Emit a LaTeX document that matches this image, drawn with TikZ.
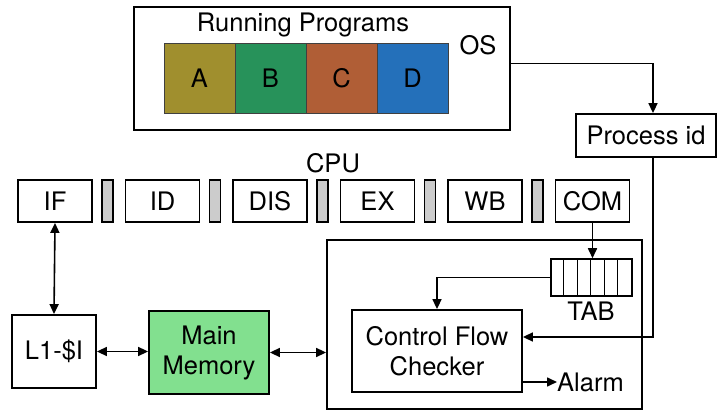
\documentclass[tikz,border=0pt]{standalone}
\usepackage{fontspec}
\setmainfont{TeX Gyre Heros}
\usetikzlibrary{arrows.meta}

\definecolor{progA}{HTML}{A08F2E}
\definecolor{progB}{HTML}{27925A}
\definecolor{progC}{HTML}{B05E36}
\definecolor{progD}{HTML}{2470BA}
\definecolor{memgreen}{HTML}{82E08F}
\definecolor{latch}{HTML}{CCCCCC}

\tikzset{
  every node/.style={font=\fontsize{25.5}{29}\selectfont, inner sep=0pt},
  box/.style={draw, line width=1.8pt, fill=white},
  prog/.style={draw=black!75, line width=0.6pt, minimum width=71pt, minimum height=70pt},
  stage/.style={box, minimum width=74pt, minimum height=42pt},
  bar/.style={draw, line width=1.5pt, fill=latch, minimum width=11pt, minimum height=42pt},
  arr/.style={line width=1.6pt, -{Triangle[length=10pt,width=9pt]}},
  darr/.style={line width=1.6pt, {Triangle[length=10pt,width=9pt]}-{Triangle[length=10pt,width=9pt]}},
}

\begin{document}
\begin{tikzpicture}[x=1pt, y=-1pt]
\useasboundingbox (0,0) rectangle (718,411);

% operating system and its running programs
\node[box, minimum width=376pt, minimum height=123pt] (os) at (322,68.5) {};
\node (rp) at (303,25) {Running Programs};
\node[prog, fill=progA] (pa) at (199.5,78) {A};
\node[prog, fill=progB] (pb) at (270.5,78) {B};
\node[prog, fill=progC] (pc) at (341.5,78) {C};
\node[prog, fill=progD] (pd) at (412.5,78) {D};
\node (oslbl) at (478,45) {OS};

\node[box, minimum width=140pt, minimum height=43pt] (pid) at (646,135.5) {Process id};

% pipeline
\node (cpu) at (333,163) {CPU};
\node[stage] (if)  at (55,201)    {IF};
\node[stage] (id)  at (162.5,201) {ID};
\node[stage] (dis) at (270,201)   {DIS};
\node[stage] (ex)  at (377.5,201) {EX};
\node[stage] (wb)  at (485,201)   {WB};
\node[stage] (com) at (592.5,201) {COM};
\node[bar] (l1b) at (107.5,201) {};
\node[bar] (l2b) at (215,201) {};
\node[bar] (l3b) at (322.5,201) {};
\node[bar] (l4b) at (430,201) {};
\node[bar] (l5b) at (537.5,201) {};

% memory hierarchy
\node[box, minimum width=84pt, minimum height=73pt] (l1) at (54,351.5) {L1-\$I};
\node[box, fill=memgreen, minimum width=120pt, minimum height=83pt, align=center] (mm) at (209,352.5) {Main\\[1pt]Memory};

% checker unit
\node[box, minimum width=315pt, minimum height=169pt] (chk) at (484.5,324.5) {};
\node[box, line width=1.5pt, minimum width=81pt, minimum height=37pt] (tab) at (591.5,277.5) {};
\foreach \i in {1,...,5}
  \draw[line width=1.3pt] ([xshift=\i*13.5pt]tab.north west) -- ([xshift=\i*13.5pt]tab.south west);
\node (tablbl) at (591,311) {TAB};
\node[box, minimum width=170pt, minimum height=82pt, align=center] (cfc) at (437,351) {Control Flow\\[1pt]Checker};
\node[anchor=west] (alarm) at (557,382) {Alarm};

% connections
\draw[arr] ([yshift=5pt]os.east) -| ([xshift=7pt]pid.north);
\draw[arr] ([xshift=7pt]pid.south) |- ([yshift=14pt]cfc.east);
\draw[arr] (com.south) -- (com.south |- tab.north);
\draw[arr] (tab.west) -| (cfc.north);
\draw[arr] ([yshift=-31pt]cfc.east) -- (alarm.west);
\draw[darr] (if.south) -- (l1.north);
\draw[darr] (l1.east) -- (l1.east -| mm.west);
\draw[darr] (mm.east) -- (mm.east -| chk.west);
\end{tikzpicture}
\end{document}
